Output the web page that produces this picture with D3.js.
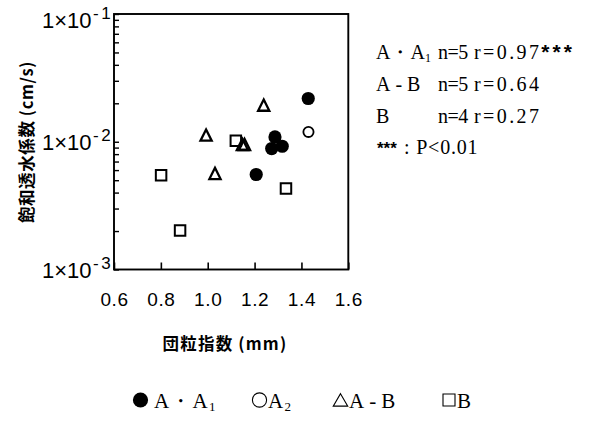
<!DOCTYPE html>
<html>
<head>
<meta charset="utf-8">
<script src="https://cdn.jsdelivr.net/npm/d3@7"></script>
<style>
  body { margin: 0; background: #fff; }
  svg { display: block; }
</style>
</head>
<body>
<svg id="chart" width="599" height="421"></svg>
<script>
// 団粒指数 (mm) vs 飽和透水係数 (cm/s), one pair of arrays per horizon
const aA1X = [1.429, 1.287, 1.273, 1.318, 1.207];
const aA1Y = [0.0218, 0.0109, 0.00885, 0.00922, 0.00554];
const a2X = [1.430];
const a2Y = [0.01194];
const abX = [1.239, 0.993, 1.148, 1.157, 1.031];
const abY = [0.0187, 0.0109, 0.00922, 0.00922, 0.00546];
const bX = [0.801, 0.882, 1.120, 1.334];
const bY = [0.00546, 0.00202, 0.0102, 0.00431];

const xTicks = [0.6, 0.8, 1.0, 1.2, 1.4, 1.6];
const xTickLabels = ["0.6", "0.8", "1.0", "1.2", "1.4", "1.6"];
const yDecades = [1e-3, 1e-2, 1e-1];
const yDecadeExponents = ["-3", "-2", "-1"];

const xTitle = "団粒指数 (mm)";
const yTitle = "飽和透水係数 (cm/s)";

// correlation table
const statNames = ["A・A", "A-B", "B"];
const statSubs = ["1", "", ""];
const statN = ["n=5", "n=5", "n=4"];
const statR = ["r=0.97", "r=0.64", "r=0.27"];
const statStars = ["***", "", ""];
const statNote = ["***", ": P<0.01"];

// legend
const legendNames = ["A・A", "A", "A-B", "B"];
const legendSubs = ["1", "2", "", ""];
const legendShapes = ["dot", "ring", "tri", "sq"];

const svg = d3.select("#chart");
const x = d3.scaleLinear().domain([0.6, 1.6]).range([114, 348.3]);
const y = d3.scaleLog().domain([1e-3, 1e-1]).range([269.5, 14]);

const sansFont = "'Liberation Sans', Arial, sans-serif";
const serifFont = "'Liberation Serif', 'Times New Roman', serif";
const cjkFont = "'Noto Sans CJK JP', sans-serif";

// wider spacing for names joined by a dash
const nameSpacing = s => (s.includes("-") ? 5 : 0);

// shape paths centred on the data point
function triPath(w, h) {
  return `M0,${-2 * h / 3}L${w / 2},${h / 3}L${-w / 2},${h / 3}Z`;
}
function sqPath(s) {
  return `M${-s / 2},${-s / 2}H${s / 2}V${s / 2}H${-s / 2}Z`;
}

// y axis: minor ticks at 2..9 of each decade, labels at decades
const yTickVals = [];
[1e-3, 1e-2].forEach(d => { for (let k = 1; k <= 9; k++) yTickVals.push(k * d); });
yTickVals.push(1e-1);
const yAxis = d3.axisLeft(y).tickValues(yTickVals).tickSizeInner(-5).tickSizeOuter(0).tickFormat("");
const gy = svg.append("g").attr("transform", `translate(${x(0.6)},0)`).call(yAxis);
gy.select(".domain").remove();
gy.selectAll(".tick line").attr("stroke", "#000").attr("stroke-width", 1.4);

// y decade labels 1×10^n (the top one is kept inside the frame height)
const yLab = svg.append("g");
yDecades.forEach((d, i) => {
  const t = yLab.append("text")
    .attr("x", 42).attr("y", Math.max(y(d) + 8, 27.5))
    .attr("font-family", sansFont).attr("font-size", 22).attr("fill", "#000");
  t.append("tspan").text("1×10");
  t.append("tspan").attr("dy", -8.5).attr("dx", 1.5).attr("font-size", 17)
    .attr("letter-spacing", 2.5).text(yDecadeExponents[i]);
});

// x axis with inward ticks
const xAxis = d3.axisBottom(x).tickValues(xTicks).tickSizeInner(-7).tickSizeOuter(0)
  .tickPadding(23).tickFormat((d, i) => xTickLabels[i]);
const gx = svg.append("g").attr("transform", `translate(0,${y(1e-3)})`).call(xAxis);
gx.select(".domain").remove();
gx.selectAll(".tick line").attr("stroke", "#000").attr("stroke-width", 1.6);
gx.selectAll(".tick text").attr("font-family", sansFont).attr("font-size", 19)
  .attr("letter-spacing", 0.6).attr("fill", "#000");

// frame
svg.append("rect")
  .attr("x", x(0.6)).attr("y", y(1e-1))
  .attr("width", x(1.6) - x(0.6)).attr("height", y(1e-3) - y(1e-1))
  .attr("fill", "none").attr("stroke", "#000").attr("stroke-width", 1.9);

// axis titles
svg.append("text")
  .attr("x", 225).attr("y", 350).attr("text-anchor", "middle")
  .attr("font-family", cjkFont).attr("font-weight", "bold").attr("font-size", 16.5)
  .attr("letter-spacing", 1.2)
  .text(xTitle);
svg.append("text")
  .attr("transform", "translate(33,142) rotate(-90)").attr("text-anchor", "middle")
  .attr("font-family", cjkFont).attr("font-weight", "bold").attr("font-size", 16.5)
  .attr("letter-spacing", 0.6)
  .text(yTitle);

// data markers
const marks = svg.append("g");
marks.selectAll(".sq").data(d3.zip(bX, bY)).join("path")
  .attr("d", sqPath(10.5))
  .attr("transform", d => `translate(${x(d[0])},${y(d[1])})`)
  .attr("fill", "none").attr("stroke", "#000").attr("stroke-width", 2);
marks.selectAll(".tri").data(d3.zip(abX, abY)).join("path")
  .attr("d", triPath(11.2, 11.2))
  .attr("transform", d => `translate(${x(d[0])},${y(d[1])})`)
  .attr("fill", "none").attr("stroke", "#000").attr("stroke-width", 2.3)
  .attr("stroke-linejoin", "miter");
marks.selectAll(".ring").data(d3.zip(a2X, a2Y)).join("circle")
  .attr("cx", d => x(d[0])).attr("cy", d => y(d[1])).attr("r", 5.1)
  .attr("fill", "none").attr("stroke", "#000").attr("stroke-width", 1.8);
marks.selectAll(".dot").data(d3.zip(aA1X, aA1Y)).join("circle")
  .attr("cx", d => x(d[0])).attr("cy", d => y(d[1])).attr("r", 6.6)
  .attr("fill", "#000");

// correlation table
const tbl = svg.append("g").attr("font-family", serifFont).attr("font-size", 20).attr("fill", "#000");
const rowY = [59, 91, 123];
statNames.forEach((nm, i) => {
  const t = tbl.append("text").attr("x", 376).attr("y", rowY[i]).attr("letter-spacing", nameSpacing(nm));
  t.append("tspan").text(nm);
  if (statSubs[i]) t.append("tspan").attr("dy", 3).attr("font-size", 12).text(statSubs[i]);
  tbl.append("text").attr("x", 438).attr("y", rowY[i]).attr("letter-spacing", -0.5).text(statN[i]);
  const r = tbl.append("text").attr("x", 474).attr("y", rowY[i]).attr("letter-spacing", 2.4);
  r.append("tspan").text(statR[i]);
  if (statStars[i]) r.append("tspan").attr("font-family", sansFont).attr("font-weight", "bold")
    .attr("font-size", 21).attr("letter-spacing", 3).text(statStars[i]);
});
tbl.append("text").attr("x", 377).attr("y", 154).attr("font-family", sansFont)
  .attr("font-weight", "bold").attr("font-size", 17).text(statNote[0]);
tbl.append("text").attr("x", 404).attr("y", 154).attr("letter-spacing", 0.8).text(statNote[1]);

// legend
const legX = [140.5, 259.5, 340.5, 449];
const legTextGap = [13.5, 8.5, 8.5, 8];
const legY = 400;
const leg = svg.append("g");
legendShapes.forEach((s, i) => {
  const cx = legX[i];
  if (s === "dot") leg.append("circle").attr("cx", cx).attr("cy", legY).attr("r", 7.6).attr("fill", "#000");
  if (s === "ring") leg.append("circle").attr("cx", cx).attr("cy", legY).attr("r", 7.1)
    .attr("fill", "none").attr("stroke", "#000").attr("stroke-width", 1.1);
  if (s === "tri") leg.append("path").attr("d", triPath(14.5, 12.5))
    .attr("transform", `translate(${cx},${legY + 2})`)
    .attr("fill", "none").attr("stroke", "#000").attr("stroke-width", 1.1);
  if (s === "sq") leg.append("path").attr("d", sqPath(12))
    .attr("transform", `translate(${cx},${legY})`)
    .attr("fill", "none").attr("stroke", "#000").attr("stroke-width", 1.1);
  const t = leg.append("text").attr("x", cx + legTextGap[i]).attr("y", 408)
    .attr("font-family", serifFont).attr("font-size", 21).attr("fill", "#000")
    .attr("letter-spacing", nameSpacing(legendNames[i]) || 1.2);
  t.append("tspan").text(legendNames[i]);
  if (legendSubs[i]) t.append("tspan").attr("dy", 3).attr("font-size", 13).text(legendSubs[i]);
});
</script>
</body>
</html>
